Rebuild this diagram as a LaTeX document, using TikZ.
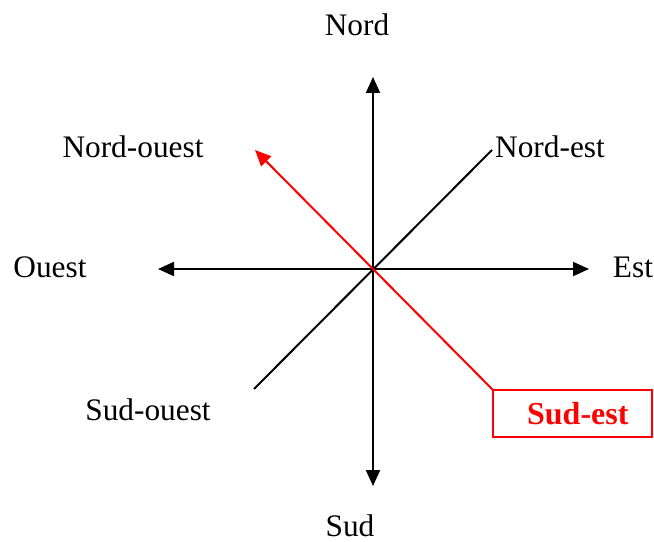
\documentclass[tikz,border=0pt]{standalone}
\usepackage{fontspec}
\setmainfont{Liberation Serif}
\usetikzlibrary{arrows.meta}
\begin{document}
\begin{tikzpicture}[x=0.75pt,y=-0.75pt,
  lbl/.style={inner sep=0pt,font=\fontsize{23.5}{28}\selectfont},
  axis/.style={line width=1.5pt,black},
  arr/.style={-{Triangle[length=12pt,width=10.5pt]}},
  redline/.style={line width=1.5pt,red},
  redbox/.style={draw=red,line width=0.8pt,minimum width=119.25pt,minimum height=35.25pt,inner sep=0pt,text=red,font=\fontsize{24}{28}\selectfont\bfseries}]
\useasboundingbox (0,0) rectangle (654,542);
\coordinate (c) at (373,269);
\coordinate (n) at (373,77);
\coordinate (s) at (373,486);
\coordinate (w) at (158,269);
\coordinate (e) at (589,269);
\coordinate (ne) at (492,150);
\coordinate (sw) at (254,389);
\coordinate (nw) at (255,150);
\node[lbl] (tn) at (357,25) {Nord};
\node[lbl] (tnw) at (133,147) {Nord-ouest};
\node[lbl] (tne) at (550,147) {Nord-est};
\node[lbl] (tw) at (50,267) {Ouest};
\node[lbl] (te) at (633,267) {Est};
\node[lbl] (tsw) at (148,410) {Sud-ouest};
\node[lbl] (ts) at (350,526) {Sud};
\node[redbox,xshift=0pt] (se) at (572.5,413.5) {\hspace*{8pt}Sud-est};
\draw[axis,arr] (c) -- (n);
\draw[axis,arr] (c) -- (s);
\draw[axis,arr] (c) -- (w);
\draw[axis,arr] (c) -- (e);
\draw[axis] (sw) -- (ne);
\draw[redline,arr] (se.north west) -- (nw);
\end{tikzpicture}
\end{document}
